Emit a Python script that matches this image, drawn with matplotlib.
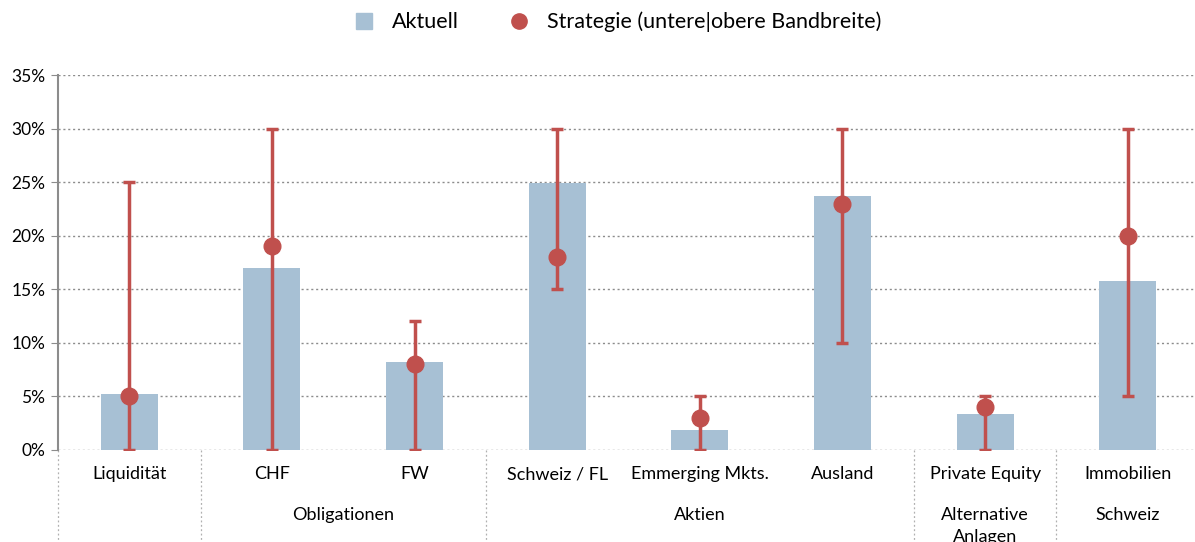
import matplotlib.pyplot as plt
from matplotlib.lines import Line2D
from matplotlib.ticker import FuncFormatter

plt.rcParams['font.family'] = ['Lato', 'DejaVu Sans']

# Data
categories = ["Liquidität", "CHF", "FW", "Schweiz / FL", "Emmerging Mkts.",
              "Ausland", "Private Equity", "Immobilien"]
aktuell = [5.2, 17.0, 8.2, 24.9, 1.9, 23.7, 3.4, 15.8]
strategie = [5, 19, 8, 18, 3, 23, 4, 20]
lower = [0, 0, 0, 15, 0, 10, 0, 5]
upper = [25, 30, 12, 30, 5, 30, 5, 30]
groups = [("", 0, 0), ("Obligationen", 1, 2), ("Aktien", 3, 5),
          ("Alternative\nAnlagen", 6, 6), ("Schweiz", 7, 7)]

bar_color = "#A7C0D4"
red = "#C0504D"

fig = plt.figure(figsize=(11.95, 5.42), dpi=100)
ax = fig.add_axes([58 / 1195, 1 - 450 / 542, (1199 - 58) / 1195, 375 / 542])

x = list(range(len(categories)))
ax.bar(x, aktuell, width=0.4, color=bar_color, zorder=2)
yerr = [[s - l for s, l in zip(strategie, lower)],
        [u - s for s, u in zip(strategie, upper)]]
ax.errorbar(x, strategie, yerr=yerr, fmt="o", color=red, ecolor=red,
            markersize=12, elinewidth=2.5, capsize=4.5, capthick=2.5, zorder=3)

ax.set_xlim(-0.5, 7.5)
ax.set_ylim(0, 35)
ax.set_yticks(range(0, 36, 5))
ax.yaxis.set_major_formatter(FuncFormatter(lambda v, p: f"{v:.0f}%"))
ax.yaxis.grid(True, linestyle=(0, (1.5, 2)), color="#8C8C8C", linewidth=1, zorder=0)
ax.set_axisbelow(True)

for s in ["top", "right", "bottom"]:
    ax.spines[s].set_visible(False)
ax.spines["left"].set_color("#8C8C8C")
ax.spines["left"].set_linewidth(1.5)
ax.tick_params(axis="y", length=5, color="#8C8C8C", labelsize=12.5, pad=4)
ax.tick_params(axis="x", length=0)
ax.set_xticks([])

# category labels
for i, c in enumerate(categories):
    ax.text(i, -2.25, c, ha="center", va="center", fontsize=13, clip_on=False)

# group labels
for name, a, b in groups:
    if name:
        ax.text((a + b) / 2, -5.3, name, ha="center", va="top", fontsize=13,
                linespacing=1.45, clip_on=False)

# group separators below axis
for sep in [-0.5, 0.5, 2.5, 5.5, 6.5]:
    ax.plot([sep, sep], [0, -9], color="#B0B0B0", linestyle=(0, (1.5, 2)),
            linewidth=0.9, clip_on=False)

# legend
handles = [Line2D([], [], marker="s", linestyle="none", color=bar_color, markersize=11),
           Line2D([], [], marker="o", linestyle="none", color=red, markersize=11)]
fig.legend(handles, ["Aktuell", "Strategie (untere|obere Bandbreite)"],
           loc="center", bbox_to_anchor=(0.512, 1 - 22 / 542), ncol=2, frameon=False,
           fontsize=15.5, handletextpad=0.3, columnspacing=1.8)

fig.savefig("out.png", dpi=100)
